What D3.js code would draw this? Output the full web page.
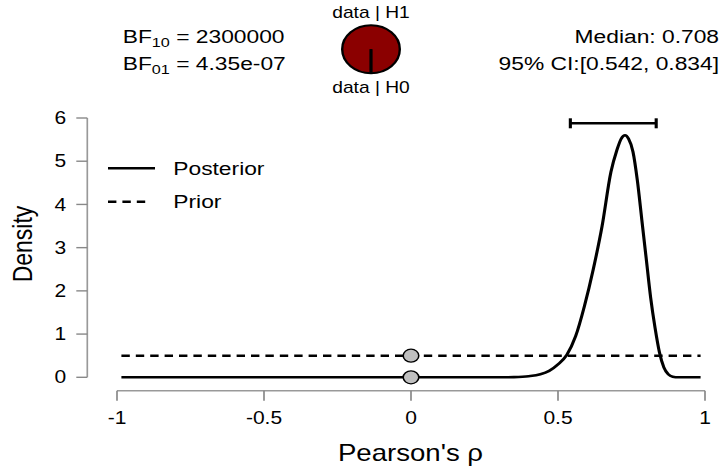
<!DOCTYPE html>
<html>
<head>
<meta charset="utf-8">
<script src="https://cdn.jsdelivr.net/npm/d3@7"></script>
<style>
    body { margin: 0; background: #fff; }
    text { font-family: "Liberation Sans", Arial, sans-serif; fill: #000; }
</style>
</head>
<body>
<div id="chart"></div>
<script>
// values
var posteriorRho = [-0.985, -0.5, 0, 0.3, 0.35, 0.4, 0.44, 0.47, 0.5, 0.53, 0.56, 0.59, 0.62, 0.65, 0.68, 0.70, 0.715, 0.728, 0.74, 0.755, 0.77, 0.785, 0.80, 0.815, 0.83, 0.845, 0.86, 0.875, 0.89, 0.91, 0.985];
var posteriorDensity = [0, 0, 0, 0, 0.005, 0.025, 0.07, 0.15, 0.3, 0.52, 0.95, 1.65, 2.5, 3.5, 4.75, 5.25, 5.52, 5.6, 5.52, 5.22, 4.55, 3.65, 2.75, 1.85, 1.15, 0.58, 0.23, 0.07, 0.015, 0, 0];
var priorRho = [-0.985, 0.985];
var priorDensity = [0.5, 0.5];
var testPointRho = [0, 0];
var testPointDensity = [0, 0.5];
var ciBounds = [0.542, 0.834];
var medianRho = "0.708";
var bf10 = 2300000;
var bf01Label = "4.35e-07";
var xTicks = [-1, -0.5, 0, 0.5, 1];
var xTickLabels = ["-1", "-0.5", "0", "0.5", "1"];
var yTicks = [0, 1, 2, 3, 4, 5, 6];
var legendNames = ["Posterior", "Prior"];

var width = 723, height = 469;
var sx = 1.2; // the picture is stretched horizontally
function px(x) { return x / sx; }

var svg = d3.select("#chart").append("svg")
    .attr("width", width)
    .attr("height", height)
    .attr("viewBox", "0 0 " + (width / sx) + " " + height)
    .attr("preserveAspectRatio", "none");

var x = d3.scaleLinear().domain([-1, 1]).range([px(117), px(705)]);
var y = d3.scaleLinear().domain([0, 6]).range([377.3, 118]);

// x axis
var xAxis = svg.append("g").attr("transform", "translate(0,390.7)");
xAxis.append("line")
    .attr("x1", x(-1)).attr("x2", x(1))
    .attr("stroke", "#999").attr("stroke-width", 1.6);
xAxis.selectAll(".xtick").data(xTicks).enter().append("line")
    .attr("x1", function (d) { return x(d); })
    .attr("x2", function (d) { return x(d); })
    .attr("y1", 0).attr("y2", 10)
    .attr("stroke", "#888").attr("stroke-width", 1.4);
xAxis.selectAll(".xlab").data(xTicks).enter().append("text")
    .attr("x", function (d) { return x(d); })
    .attr("y", 33)
    .attr("text-anchor", "middle")
    .style("font-size", "17.5px")
    .text(function (d, i) { return xTickLabels[i]; });

// y axis
var yAxis = svg.append("g").attr("transform", "translate(" + px(87.3) + ",0)");
yAxis.append("line")
    .attr("y1", y(0)).attr("y2", y(6))
    .attr("stroke", "#999").attr("stroke-width", 1.4);
yAxis.selectAll(".ytick").data(yTicks).enter().append("line")
    .attr("x1", 0).attr("x2", -px(11))
    .attr("y1", function (d) { return y(d); })
    .attr("y2", function (d) { return y(d); })
    .attr("stroke", "#888").attr("stroke-width", 1.4);
yAxis.selectAll(".ylab").data(yTicks).enter().append("text")
    .attr("x", -px(21))
    .attr("y", function (d) { return y(d); })
    .attr("dy", "0.35em")
    .attr("text-anchor", "end")
    .style("font-size", "17.5px")
    .text(function (d) { return d; });

// axis titles
svg.append("text")
    .attr("transform", "translate(" + px(32) + "," + 244 + ") rotate(-90)")
    .attr("text-anchor", "middle")
    .style("font-size", "23px")
    .text("Density");
svg.append("text")
    .attr("x", px(410.5)).attr("y", 461)
    .attr("text-anchor", "middle")
    .style("font-size", "23px")
    .text("Pearson's \u03c1");

// lines
var line = d3.line()
    .x(function (d) { return x(d[0]); })
    .y(function (d) { return y(d[1]); })
    .curve(d3.curveMonotoneX);

svg.append("path")
    .datum(d3.zip(priorRho, priorDensity))
    .attr("d", line)
    .attr("fill", "none").attr("stroke", "#000")
    .attr("stroke-width", 2.5)
    .attr("stroke-dasharray", "7,5");

svg.append("path")
    .datum(d3.zip(posteriorRho, posteriorDensity))
    .attr("d", line)
    .attr("fill", "none").attr("stroke", "#000")
    .attr("stroke-width", 2.6)
    .attr("stroke-linejoin", "round");

svg.selectAll(".testpoint")
    .data(d3.zip(testPointRho, testPointDensity))
    .enter().append("circle")
    .attr("cx", function (d) { return x(d[0]); })
    .attr("cy", function (d) { return y(d[1]); })
    .attr("r", 6.5)
    .attr("fill", "#bfbfbf").attr("stroke", "#000").attr("stroke-width", 1.3);

// credible interval
var ciY = 123.3;
var ci = svg.append("g").attr("stroke", "#000").attr("stroke-width", 2.6);
ci.append("line").attr("x1", x(ciBounds[0])).attr("x2", x(ciBounds[1])).attr("y1", ciY).attr("y2", ciY);
ci.selectAll(".cap").data(ciBounds).enter().append("line")
    .attr("x1", function (d) { return x(d); })
    .attr("x2", function (d) { return x(d); })
    .attr("y1", ciY - 5).attr("y2", ciY + 5);

// legend
var legend = svg.append("g");
legendNames.forEach(function (name, i) {
    var ly = [168.3, 201.7][i];
    legend.append("line")
        .attr("x1", px(108)).attr("x2", px(i === 0 ? 155 : 150))
        .attr("y1", ly).attr("y2", ly)
        .attr("stroke", "#000").attr("stroke-width", 2.5)
        .attr("stroke-dasharray", i === 0 ? null : "7,5");
    legend.append("text")
        .attr("x", px(173.3)).attr("y", ly + 6.5)
        .style("font-size", "19px")
        .text(name);
});

// Bayes factor text
var bf1 = svg.append("text").attr("x", px(122.7)).attr("y", 43.3).style("font-size", "19px");
bf1.append("tspan").text("BF");
bf1.append("tspan").attr("dy", 4).style("font-size", "13.5px").text("10");
bf1.append("tspan").attr("dy", -4).text(" = " + bf10);
var bf2 = svg.append("text").attr("x", px(122.7)).attr("y", 70.5).style("font-size", "19px");
bf2.append("tspan").text("BF");
bf2.append("tspan").attr("dy", 4).style("font-size", "13.5px").text("01");
bf2.append("tspan").attr("dy", -4).text(" = " + bf01Label);

// median and CI text
svg.append("text").attr("x", px(719)).attr("y", 43.3)
    .attr("text-anchor", "end").style("font-size", "19px")
    .text("Median: " + medianRho);
svg.append("text").attr("x", px(719)).attr("y", 70.5)
    .attr("text-anchor", "end").style("font-size", "19px")
    .text("95% CI:[" + ciBounds[0].toFixed(3) + ", " + ciBounds[1].toFixed(3) + "]");

// probability wheel: H1 share is almost the whole disc, H0 share is a sliver at the bottom
var pieCx = px(371), pieCy = 49.2, pieR = 24;
var pH0 = 1 / (1 + bf10);
var wheel = svg.append("g").attr("transform", "translate(" + pieCx + "," + pieCy + ")");
wheel.append("circle")
    .attr("r", pieR)
    .attr("fill", "#8b0000")
    .attr("stroke", "#000").attr("stroke-width", 2);
var h0Start = Math.PI, h0End = Math.PI + 2 * Math.PI * pH0;
wheel.append("path")
    .attr("d", d3.arc().innerRadius(0).outerRadius(pieR).startAngle(h0Start).endAngle(h0End)())
    .attr("fill", "#fff").attr("stroke", "#000").attr("stroke-width", 2);
wheel.append("line")
    .attr("x1", 0).attr("y1", 0)
    .attr("x2", pieR * Math.sin(h0Start)).attr("y2", -pieR * Math.cos(h0Start))
    .attr("stroke", "#000").attr("stroke-width", 2.5);
svg.append("text").attr("x", pieCx).attr("y", 18.3)
    .attr("text-anchor", "middle").style("font-size", "16px").text("data | H1");
svg.append("text").attr("x", pieCx).attr("y", 93.5)
    .attr("text-anchor", "middle").style("font-size", "16px").text("data | H0");
</script>
</body>
</html>
